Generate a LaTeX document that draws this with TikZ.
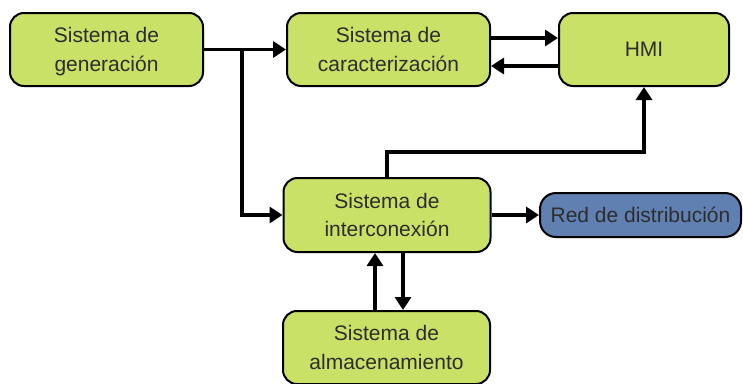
\documentclass[tikz,border=0pt]{standalone}
\usepackage{fontspec}
\setmainfont{Liberation Sans}
\usetikzlibrary{arrows.meta}
\definecolor{boxgreen}{RGB}{201,225,102}
\definecolor{boxblue}{RGB}{96,128,178}
\definecolor{txt}{RGB}{45,45,45}
\tikzset{
  blk/.style={draw=black, line width=2pt, rounded corners=14pt, fill=boxgreen,
    text=txt, align=center, inner sep=0pt, text depth=0pt,
    font=\fontsize{21}{28.5}\selectfont},
  bluebox/.style={blk, fill=boxblue, rounded corners=16pt},
  arr/.style={line width=3.4pt, -{Triangle[length=13pt,width=16pt]}},
  ln/.style={line width=3.4pt}
}
\begin{document}
\begin{tikzpicture}[x=1pt,y=-1pt]
\useasboundingbox (0,0) rectangle (743,383);
\node[blk, minimum width=193pt, minimum height=73pt] (gen) at (106.5,49.5) {Sistema de\\generación};
\node[blk, minimum width=203pt, minimum height=73pt] (car) at (388.5,49.5) {Sistema de\\caracterización};
\node[blk, minimum width=170pt, minimum height=73pt] (hmi) at (644,49.5) {HMI};
\node[blk, minimum width=207pt, minimum height=74pt] (int) at (387,215) {Sistema de\\interconexión};
\node[bluebox, minimum width=201pt, minimum height=44pt] (red) at (640.5,215) {Red de distribución};
\node[blk, minimum width=207pt, minimum height=73pt] (alm) at (386.5,347.5) {Sistema de\\almacenamiento};

\coordinate (br) at (242,49.5);
\draw[arr] (gen.east) -- (car.west);
\draw[arr] (br) |- (int.west);
\draw[arr] (car.east |- 0,38) -- (hmi.west |- 0,38);
\draw[arr] (hmi.west |- 0,66) -- (car.east |- 0,66);
\coordinate (up) at (387,152);
\draw[arr] (int.north) -- (up) -| (hmi.south);
\draw[arr] (int.east) -- (red.west);
\draw[arr] (alm.north -| 375,0) -- (int.south -| 375,0);
\draw[arr] (int.south -| 403,0) -- (alm.north -| 403,0);
\end{tikzpicture}
\end{document}
